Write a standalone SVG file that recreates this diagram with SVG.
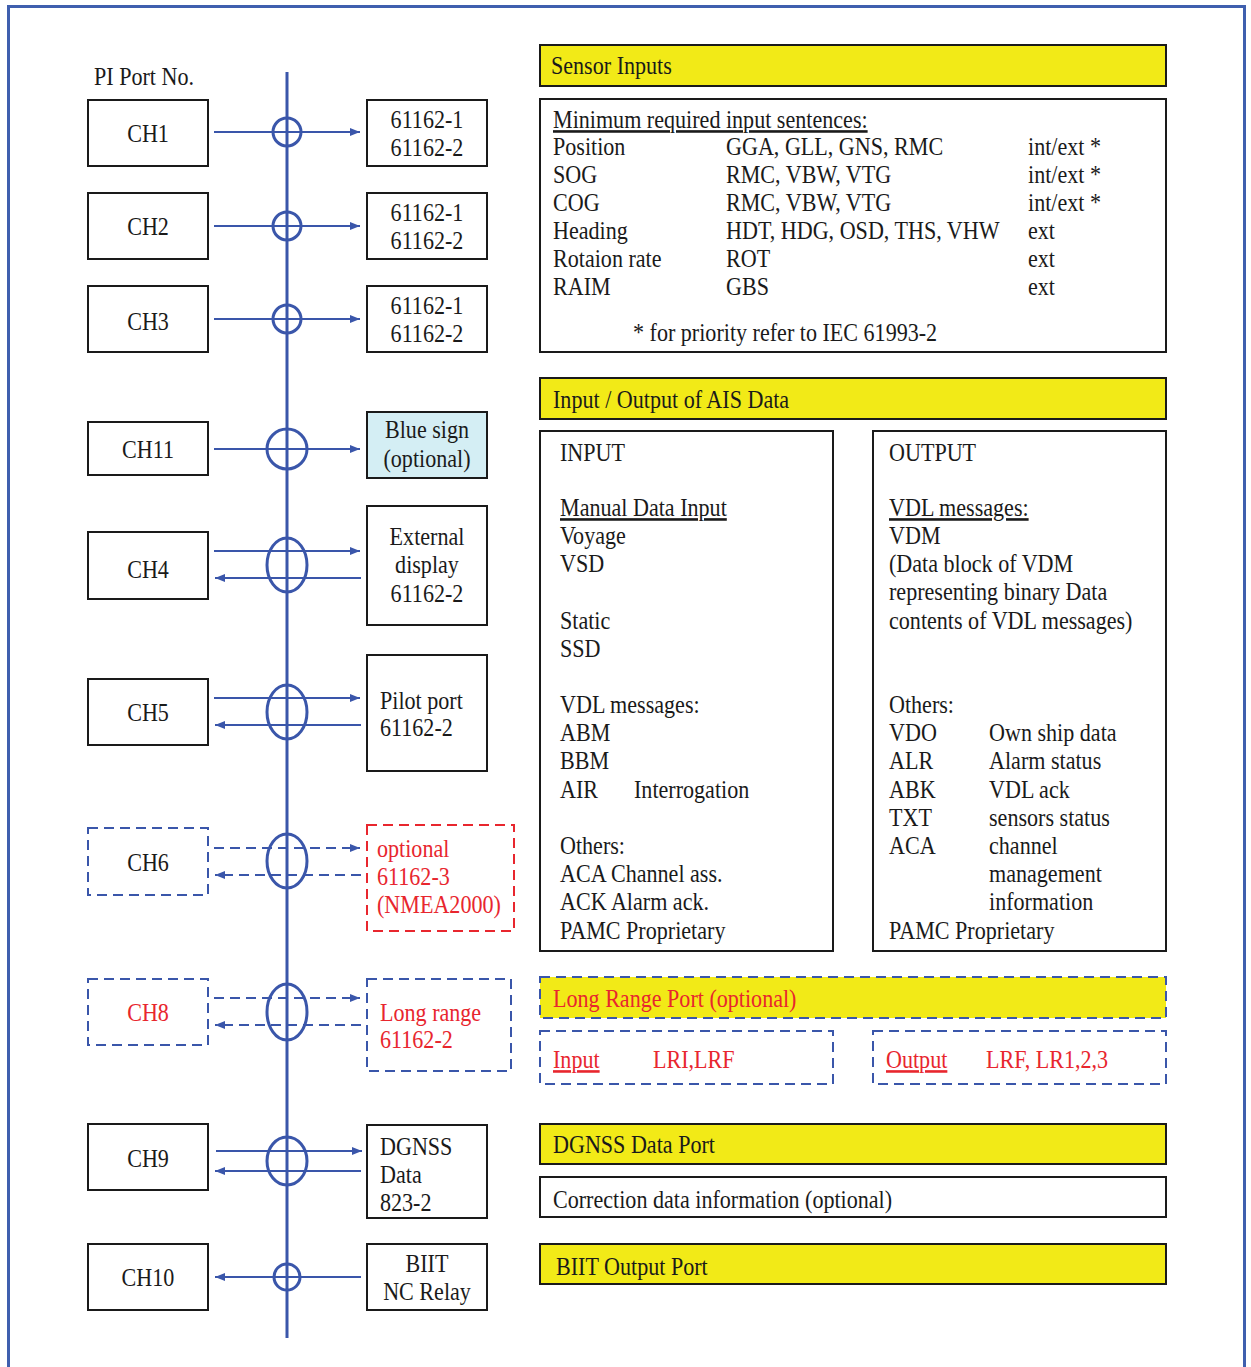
<svg xmlns="http://www.w3.org/2000/svg" width="1251" height="1367" viewBox="0 0 1251 1367">
<defs>
<style>
.t{font-family:"Liberation Serif","Times New Roman",serif;font-size:26px;fill:#1a1a1a}
.m{text-anchor:middle}
.r{fill:#e8262e}
.u{text-decoration:underline}
.box{fill:#fff;stroke:#1a1a1a;stroke-width:2}
.yel{fill:#f2ea17;stroke:#1a1a1a;stroke-width:2}
.dbl{fill:#fff;stroke:#3a56aa;stroke-width:2;stroke-dasharray:10 6}
.dred{fill:#fff;stroke:#e8262e;stroke-width:2;stroke-dasharray:10 6}
.ln{stroke:#3a56aa;stroke-width:2;fill:none}
.dl{stroke:#3a56aa;stroke-width:2;fill:none;stroke-dasharray:10 6}
.ring{stroke:#3a56aa;stroke-width:3;fill:none}
</style>
<marker id="ah" viewBox="0 0 10 8" refX="10" refY="4" markerWidth="10" markerHeight="8" markerUnits="userSpaceOnUse" orient="auto"><path d="M0,0 L10,4 L0,8 z" fill="#3a56aa"/></marker>
</defs>
<rect width="1251" height="1367" fill="#fff"/>
<rect x="8.5" y="6.5" width="1236" height="1400" fill="none" stroke="#3f5fae" stroke-width="3"/>

<g id="connectors">
<line x1="287" y1="72" x2="287" y2="1338" stroke="#3a56aa" stroke-width="3"/>
<path class="ln" d="M214,132 H360" marker-end="url(#ah)"/>
<path class="ln" d="M214,226 H360" marker-end="url(#ah)"/>
<path class="ln" d="M214,319 H360" marker-end="url(#ah)"/>
<path class="ln" d="M214,449 H360" marker-end="url(#ah)"/>
<path class="ln" d="M214,551 H360" marker-end="url(#ah)"/>
<path class="ln" d="M361,578 H215" marker-end="url(#ah)"/>
<path class="ln" d="M214,698 H360" marker-end="url(#ah)"/>
<path class="ln" d="M361,725 H215" marker-end="url(#ah)"/>
<path class="dl" d="M214,848 H360" marker-end="url(#ah)"/>
<path class="dl" d="M361,875 H215" marker-end="url(#ah)"/>
<path class="dl" d="M214,998 H360" marker-end="url(#ah)"/>
<path class="dl" d="M361,1025 H215" marker-end="url(#ah)"/>
<path class="ln" d="M216,1151 H362" marker-end="url(#ah)"/>
<path class="ln" d="M361,1171 H215" marker-end="url(#ah)"/>
<path class="ln" d="M361,1277 H215" marker-end="url(#ah)"/>
<circle class="ring" cx="287" cy="132" r="14"/>
<circle class="ring" cx="287" cy="226" r="14"/>
<circle class="ring" cx="287" cy="319" r="14"/>
<circle class="ring" cx="287" cy="449" r="20"/>
<ellipse class="ring" cx="287" cy="565" rx="20" ry="27"/>
<ellipse class="ring" cx="287" cy="712" rx="20" ry="27"/>
<ellipse class="ring" cx="287" cy="861" rx="20" ry="27"/>
<ellipse class="ring" cx="287" cy="1012" rx="20" ry="28"/>
<ellipse class="ring" cx="287" cy="1161" rx="20" ry="24"/>
<circle class="ring" cx="287" cy="1277" r="13"/>
</g>

<g id="pi-port-title"><text class="t" transform="translate(94 85) scale(0.85 1)">PI Port No.</text></g>

<g id="ch1"><rect class="box" x="88" y="100" width="120" height="66"/><text class="t m" transform="translate(148 141.5) scale(0.85 1)">CH1</text></g>
<g id="ch2"><rect class="box" x="88" y="193" width="120" height="66"/><text class="t m" transform="translate(148 234.5) scale(0.85 1)">CH2</text></g>
<g id="ch3"><rect class="box" x="88" y="286" width="120" height="66"/><text class="t m" transform="translate(148 330) scale(0.85 1)">CH3</text></g>
<g id="ch11"><rect class="box" x="88" y="422" width="120" height="53"/><text class="t m" transform="translate(148 457.5) scale(0.85 1)">CH11</text></g>
<g id="ch4"><rect class="box" x="88" y="532" width="120" height="67"/><text class="t m" transform="translate(148 577.5) scale(0.85 1)">CH4</text></g>
<g id="ch5"><rect class="box" x="88" y="679" width="120" height="66"/><text class="t m" transform="translate(148 720.5) scale(0.85 1)">CH5</text></g>
<g id="ch6"><rect class="dbl" x="88" y="828" width="120" height="67"/><text class="t m" transform="translate(148 870.5) scale(0.85 1)">CH6</text></g>
<g id="ch8"><rect class="dbl" x="88" y="979" width="120" height="66"/><text class="t m r" transform="translate(148 1020.5) scale(0.85 1)">CH8</text></g>
<g id="ch9"><rect class="box" x="88" y="1124" width="120" height="66"/><text class="t m" transform="translate(148 1166.5) scale(0.85 1)">CH9</text></g>
<g id="ch10"><rect class="box" x="88" y="1244" width="120" height="66"/><text class="t m" transform="translate(148 1285.5) scale(0.85 1)">CH10</text></g>

<g id="dev1"><rect class="box" x="367" y="100" width="120" height="66"/><text class="t m" transform="translate(427 127.5) scale(0.85 1)"><tspan x="0" y="0">61162-1</tspan><tspan x="0" y="28.5">61162-2</tspan></text></g>
<g id="dev2"><rect class="box" x="367" y="193" width="120" height="66"/><text class="t m" transform="translate(427 221) scale(0.85 1)"><tspan x="0" y="0">61162-1</tspan><tspan x="0" y="28.5">61162-2</tspan></text></g>
<g id="dev3"><rect class="box" x="367" y="286" width="120" height="66"/><text class="t m" transform="translate(427 314) scale(0.85 1)"><tspan x="0" y="0">61162-1</tspan><tspan x="0" y="28.5">61162-2</tspan></text></g>
<g id="blue-sign"><rect x="367" y="412" width="120" height="66" fill="#d4eef4" stroke="#1a1a1a" stroke-width="2"/><text class="t m" transform="translate(427 438) scale(0.85 1)"><tspan x="0" y="0">Blue sign</tspan><tspan x="0" y="29">(optional)</tspan></text></g>
<g id="ext-display"><rect class="box" x="367" y="506" width="120" height="119"/><text class="t m" transform="translate(427 545) scale(0.85 1)"><tspan x="0" y="0">External</tspan><tspan x="0" y="28.5">display</tspan><tspan x="0" y="57">61162-2</tspan></text></g>
<g id="pilot-port"><rect class="box" x="367" y="655" width="120" height="116"/><text class="t" transform="translate(380 709) scale(0.85 1)"><tspan x="0" y="0">Pilot port</tspan><tspan x="0" y="27.5">61162-2</tspan></text></g>
<g id="nmea2000"><rect class="dred" x="367" y="825" width="147" height="106"/><text class="t r" transform="translate(377 857) scale(0.85 1)"><tspan x="0" y="0">optional</tspan><tspan x="0" y="28">61162-3</tspan><tspan x="0" y="56">(NMEA2000)</tspan></text></g>
<g id="long-range"><rect class="dbl" x="367" y="979" width="144" height="92"/><text class="t r" transform="translate(380 1021) scale(0.85 1)"><tspan x="0" y="0">Long range</tspan><tspan x="0" y="27.5">61162-2</tspan></text></g>
<g id="dgnss"><rect class="box" x="367" y="1125" width="120" height="93"/><text class="t" transform="translate(380 1155) scale(0.85 1)"><tspan x="0" y="0">DGNSS</tspan><tspan x="0" y="28">Data</tspan><tspan x="0" y="56">823-2</tspan></text></g>
<g id="biit"><rect class="box" x="367" y="1244" width="120" height="66"/><text class="t m" transform="translate(427 1272) scale(0.85 1)"><tspan x="0" y="0">BIIT</tspan><tspan x="0" y="28.5">NC Relay</tspan></text></g>

<g id="sensor-inputs-header"><rect class="yel" x="540" y="45" width="626" height="41"/><text class="t" transform="translate(551 74) scale(0.85 1)">Sensor Inputs</text></g>
<g id="sensor-inputs">
<rect class="box" x="540" y="99" width="626" height="253"/>
<text class="t u" transform="translate(553 128) scale(0.85 1)">Minimum required input sentences:</text>
<text class="t" transform="translate(553 155) scale(0.85 1)"><tspan x="0" y="0">Position</tspan><tspan x="0" y="28">SOG</tspan><tspan x="0" y="56">COG</tspan><tspan x="0" y="84">Heading</tspan><tspan x="0" y="112">Rotaion rate</tspan><tspan x="0" y="140">RAIM</tspan></text>
<text class="t" transform="translate(726 155) scale(0.85 1)"><tspan x="0" y="0">GGA, GLL, GNS, RMC</tspan><tspan x="0" y="28">RMC, VBW, VTG</tspan><tspan x="0" y="56">RMC, VBW, VTG</tspan><tspan x="0" y="84">HDT, HDG, OSD, THS, VHW</tspan><tspan x="0" y="112">ROT</tspan><tspan x="0" y="140">GBS</tspan></text>
<text class="t" transform="translate(1028 155) scale(0.85 1)"><tspan x="0" y="0">int/ext *</tspan><tspan x="0" y="28">int/ext *</tspan><tspan x="0" y="56">int/ext *</tspan><tspan x="0" y="84">ext</tspan><tspan x="0" y="112">ext</tspan><tspan x="0" y="140">ext</tspan></text>
<text class="t" transform="translate(633 341) scale(0.85 1)">* for priority refer to IEC 61993-2</text>
</g>

<g id="ais-io-header"><rect class="yel" x="540" y="378" width="626" height="41"/><text class="t" transform="translate(553 408) scale(0.85 1)">Input / Output of AIS Data</text></g>
<g id="ais-input">
<rect class="box" x="540" y="431" width="293" height="520"/>
<text class="t" transform="translate(560 461) scale(0.85 1)">INPUT</text>
<text class="t u" transform="translate(560 516) scale(0.85 1)">Manual Data Input</text>
<text class="t" transform="translate(560 544) scale(0.85 1)"><tspan x="0" y="0">Voyage</tspan><tspan x="0" y="28">VSD</tspan><tspan x="0" y="85">Static</tspan><tspan x="0" y="113">SSD</tspan><tspan x="0" y="169">VDL messages:</tspan><tspan x="0" y="197">ABM</tspan><tspan x="0" y="225">BBM</tspan><tspan x="0" y="254">AIR</tspan><tspan x="0" y="310">Others:</tspan><tspan x="0" y="338">ACA Channel ass.</tspan><tspan x="0" y="366">ACK Alarm ack.</tspan><tspan x="0" y="395">PAMC Proprietary</tspan></text>
<text class="t" transform="translate(634 798) scale(0.85 1)">Interrogation</text>
</g>
<g id="ais-output">
<rect class="box" x="873" y="431" width="293" height="520"/>
<text class="t" transform="translate(889 461) scale(0.85 1)">OUTPUT</text>
<text class="t u" transform="translate(889 516) scale(0.85 1)">VDL messages:</text>
<text class="t" transform="translate(889 544) scale(0.85 1)"><tspan x="0" y="0">VDM</tspan><tspan x="0" y="28">(Data block of VDM</tspan><tspan x="0" y="56">representing binary Data</tspan><tspan x="0" y="85">contents of VDL messages)</tspan><tspan x="0" y="169">Others:</tspan><tspan x="0" y="197">VDO</tspan><tspan x="0" y="225">ALR</tspan><tspan x="0" y="254">ABK</tspan><tspan x="0" y="282">TXT</tspan><tspan x="0" y="310">ACA</tspan><tspan x="0" y="395">PAMC Proprietary</tspan></text>
<text class="t" transform="translate(989 741) scale(0.85 1)"><tspan x="0" y="0">Own ship data</tspan><tspan x="0" y="28">Alarm status</tspan><tspan x="0" y="57">VDL ack</tspan><tspan x="0" y="85">sensors status</tspan><tspan x="0" y="113">channel</tspan><tspan x="0" y="141">management</tspan><tspan x="0" y="169">information</tspan></text>
</g>

<g id="long-range-header"><rect x="540" y="977" width="626" height="41" fill="#f2ea17" stroke="#3a56aa" stroke-width="2" stroke-dasharray="10 6"/><text class="t r" transform="translate(553 1007) scale(0.85 1)">Long Range Port (optional)</text></g>
<g id="long-range-input"><rect class="dbl" x="540" y="1031" width="293" height="53"/><text class="t r u" transform="translate(553 1068) scale(0.85 1)">Input</text><text class="t r" transform="translate(653 1068) scale(0.85 1)">LRI,LRF</text></g>
<g id="long-range-output"><rect class="dbl" x="873" y="1031" width="293" height="53"/><text class="t r u" transform="translate(886 1068) scale(0.85 1)">Output</text><text class="t r" transform="translate(986 1068) scale(0.85 1)">LRF, LR1,2,3</text></g>

<g id="dgnss-header"><rect class="yel" x="540" y="1124" width="626" height="40"/><text class="t" transform="translate(553 1153) scale(0.85 1)">DGNSS Data Port</text></g>
<g id="dgnss-info"><rect class="box" x="540" y="1177" width="626" height="40"/><text class="t" transform="translate(553 1208) scale(0.85 1)">Correction data information (optional)</text></g>
<g id="biit-header"><rect class="yel" x="540" y="1244" width="626" height="40"/><text class="t" transform="translate(556 1275) scale(0.85 1)">BIIT Output Port</text></g>
</svg>
